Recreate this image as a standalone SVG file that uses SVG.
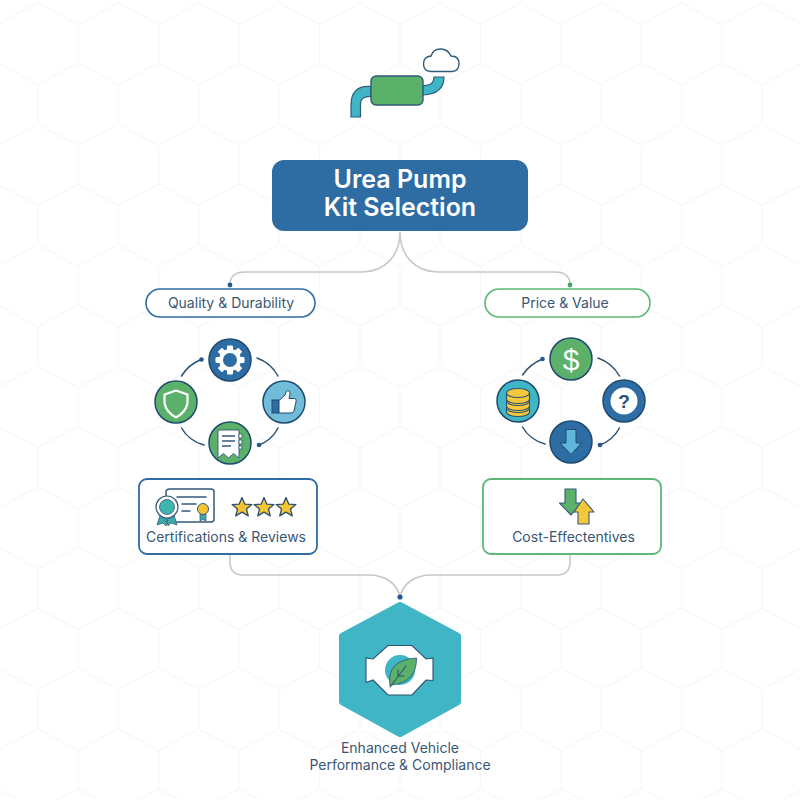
<svg xmlns="http://www.w3.org/2000/svg" xmlns:xlink="http://www.w3.org/1999/xlink" width="800" height="800" viewBox="0 0 800 800">
<style>
text{font-family:Inter,"Liberation Sans",sans-serif;fill:#3a5675;text-anchor:middle}
.lab{font-size:14px}
.title{font-size:25px;font-weight:600;fill:#fff}
.con{fill:none;stroke:#c6c8c9;stroke-width:1.6}
.arc{fill:none;stroke:#2c5273;stroke-width:1.5;stroke-linecap:round}
.ring{stroke:#1f4a70;stroke-width:1.5}
.blue{fill:#2e6ca4}.green{fill:#5cb16a}.teal{fill:#3fb5c6}.light{fill:#70bcd9}
.ink{fill:none;stroke:#34597a;stroke-width:1.5;stroke-linecap:round;stroke-linejoin:round}
.star{fill:#f5c432;stroke:#2d5070;stroke-width:1.3;stroke-linejoin:round}
</style>
<defs>
<pattern id="hex" width="80.5" height="121" patternUnits="userSpaceOnUse" x="37.75" y="3">
<path d="M0 0L40.25 21.5V60L0 81.5V121M80.5 0L40.25 21.5M40.25 60L80.5 81.5V121" fill="none" stroke="#f7f7f8" stroke-width="1.3"/>
</pattern>
<path id="st" d="M0-10L2.9-3.3 9.9-2.9 4.5 1.6 6.3 8.4 0 4.6-6.3 8.4-4.5 1.6-9.9-2.9-2.9-3.3Z"/>
</defs>
<rect width="800" height="800" fill="#fff"/>
<rect id="background" width="800" height="800" fill="url(#hex)"/>
<g id="connectors">
<path class="con" d="M400 232C400 255 385 272 362 272H245Q230 272 230 285"/>
<path class="con" d="M400 232C400 255 415 272 438 272H555Q570 272 570 285"/>
<path class="con" d="M230 555V562Q230 575 243 575H368C385 575 397 583 400 597"/>
<path class="con" d="M570 555V562Q570 575 557 575H432C415 575 403 583 400 597"/>
<circle cx="230" cy="285" r="2.400" fill="#24598e"/>
<circle cx="570" cy="285" r="2.400" fill="#4aa365"/>
<circle cx="400" cy="597" r="2.600" fill="#24598e"/>
<g id="left-cycle">
<path class="arc" d="M181.500 376Q188 365 201 359.500"/><path class="arc" d="M257 358Q271 363 278 376"/><path class="arc" d="M278 428Q272 440 259 445"/><path class="arc" d="M181.500 428Q189 441 204 445"/>
<circle cx="201.500" cy="359.500" r="2.300" fill="#24598e"/><circle cx="259" cy="445" r="2.300" fill="#24598e"/>
</g>
<g id="right-cycle">
<path class="arc" d="M522.500 375Q530 364 542.500 359"/><path class="arc" d="M598 358Q612 363 619.500 376"/><path class="arc" d="M619.500 428Q613 440 600 445"/><path class="arc" d="M522.500 427Q530 440 545 444"/>
<circle cx="542.500" cy="359" r="2.300" fill="#24598e"/><circle cx="600" cy="445" r="2.300" fill="#24598e"/>
</g>
</g>
<g id="muffler">
<path d="M371 86.500Q351 85 351 105V117H360.500V104Q360.500 96 371 96.500Z" class="teal" stroke="#2c5b7a" stroke-width="1.200"/>
<path d="M423 85.500Q434 86 434 77H444Q444 94 423 95Z" class="teal" stroke="#2c5b7a" stroke-width="1.200"/>
<rect x="371" y="76" width="52" height="29" rx="5" class="green" stroke="#2f5a78" stroke-width="1.400"/>
<path d="M431 71.500H452Q459 71 459 63.500Q459 56 451 56Q448 49 440.500 49Q433 49 431 56Q423.500 56.500 423.500 64Q423.500 71 431 71.500Z" fill="#fff" stroke="#2f5a78" stroke-width="1.400"/>
</g>
<g id="title">
<rect x="272" y="160" width="256" height="71" rx="12" class="blue"/>
<text class="title" x="400" y="188">Urea Pump</text>
<text class="title" x="400" y="216">Kit Selection</text>
</g>
<g id="quality">
<rect x="146" y="289" width="169" height="28" rx="14" fill="#fff" stroke="#2e6ca4" stroke-width="1.600"/>
<text class="lab" x="231" y="308">Quality &amp; Durability</text>
</g>
<g id="price">
<rect x="485" y="289" width="165" height="28" rx="14" fill="#fff" stroke="#5cb874" stroke-width="1.600"/>
<text class="lab" x="565" y="308">Price &amp; Value</text>
</g>
<g id="gear">
<circle cx="230" cy="360" r="21" class="blue ring"/>
<g fill="#fff"><circle cx="230" cy="360" r="11"/><g id="teeth"><rect x="227" y="345.500" width="6" height="29" rx="1"/><rect x="227" y="345.500" width="6" height="29" rx="1" transform="rotate(45 230 360)"/><rect x="227" y="345.500" width="6" height="29" rx="1" transform="rotate(90 230 360)"/><rect x="227" y="345.500" width="6" height="29" rx="1" transform="rotate(135 230 360)"/></g></g>
<circle cx="230" cy="360" r="7" class="blue"/>
</g>
<g id="thumb">
<circle cx="284" cy="402" r="21" class="light ring"/>
<rect x="272" y="400" width="7" height="13" fill="#2e6ca4" stroke="#1f4a70"/>
<path d="M279 400.500L285 395L286.500 391Q290 389.500 290 394L289 398.500H294.500Q297 399 296 402L294 411Q293.500 413 291 413H279Z" fill="#fff" stroke="#1f4a70" stroke-width="1"/>
</g>
<g id="shield">
<circle cx="176" cy="402" r="21" class="green ring"/>
<path d="M176 390.500L187.500 394.500V403Q186 412 176 417.500Q166 412 164.500 403V394.500Z" class="green" stroke="#fff" stroke-width="2.200" stroke-linejoin="round"/>
</g>
<g id="document">
<circle cx="230" cy="443" r="21" class="green ring"/>
<path d="M218 430H239V458L233.500 453.500L228.500 458L223.500 453.500L218 458Z" fill="#fff" stroke="#1f4a70" stroke-width=".8"/>
<path d="M239 434h3v4h-3zM239 440h3v4h-3zM239 446h3v3h-3z" fill="#fff" stroke="#1f4a70" stroke-width=".7"/>
<path d="M222 436H235M222 441H235M222 446H231" stroke="#34597a" stroke-width="1.300"/>
</g>
<g id="dollar">
<circle cx="571" cy="359" r="21" class="green ring"/>
<text x="571" y="370" style="font-size:30px;fill:#fff;font-family:'Liberation Sans',sans-serif">$</text>
</g>
<g id="question">
<circle cx="624" cy="401" r="21" class="blue ring"/>
<circle cx="624" cy="401" r="13.500" fill="#fff"/>
<text x="624" y="408" style="font-size:19px;font-weight:700;fill:#24507a;font-family:'Liberation Sans',sans-serif">?</text>
</g>
<g id="arrow">
<circle cx="571" cy="442" r="21" class="blue ring"/>
<path d="M566 429.500H576V443H581.500L571 454.500L560 443H566Z" fill="#5fb7dc" stroke="#1f4a70" stroke-width="1"/>
</g>
<g id="coins">
<circle cx="518" cy="401" r="21" class="teal ring"/>
<g fill="#f5c83c" stroke="#2c5273" stroke-width="1.100">
<path d="M506.500 408v4a11.500 4.500 0 0 0 23 0v-4Z"/><ellipse cx="518" cy="408" rx="11.500" ry="4.500"/>
<path d="M506.500 401v5a11.500 4.500 0 0 0 23 0v-5Z"/><ellipse cx="518" cy="401" rx="11.500" ry="4.500"/>
<path d="M506.500 393v6a11.500 4.500 0 0 0 23 0v-6Z"/><ellipse cx="518" cy="393" rx="11.500" ry="4.500"/>
</g>
</g>
<g id="certifications">
<rect x="139" y="479" width="178" height="75" rx="8" fill="#fff" stroke="#2e6ca4" stroke-width="1.800"/>
<path class="ink" d="M170 489H211Q214 489 214 492V519Q214 522 211 522H176M166 496V492Q166 489 170 489"/>
<path class="ink" d="M177 497H206M182 504H196M182 511H190"/>
<path d="M160 515L157 525L163 523L166 526L168 517ZM174 515L177 525L171 523L168 526L166 517Z" fill="#3aa9a8" stroke="#2c5273" stroke-width=".7"/>
<circle cx="167" cy="507" r="11" fill="#fff" stroke="#34597a" stroke-width="1.200"/>
<circle cx="167" cy="507" r="7.500" fill="#3fb5b0" stroke="#34597a" stroke-width=".8"/>
<path d="M200 514V521L203 519.500L206 521V514Z" fill="#3aa9a8" stroke="#2c5273" stroke-width=".7"/>
<circle cx="203" cy="509" r="5.500" fill="#f5c432" stroke="#34597a" stroke-width="1"/>
<use xlink:href="#st" href="#st" x="242" y="507.500" class="star"/><use xlink:href="#st" href="#st" x="264" y="507.500" class="star"/><use xlink:href="#st" href="#st" x="286" y="507.500" class="star"/>
<text class="lab" x="226" y="542">Certifications &amp; Reviews</text>
</g>
<g id="cost">
<rect x="483" y="479" width="178" height="75" rx="8" fill="#fff" stroke="#5cb874" stroke-width="1.800"/>
<path d="M565 489H576V503H582L571 515L559.500 503H565Z" class="green" stroke="#34597a" stroke-width="1.100" stroke-linejoin="round"/>
<path d="M583 499L594 512H589V524H578V512H574Z" fill="#f5c83c" stroke="#34597a" stroke-width="1.100" stroke-linejoin="round"/>
<text class="lab" x="573.500" y="542">Cost-Effectentives</text>
</g>
<g id="outcome">
<path d="M400 605L458 636V702L400 734L342 702V636Z" class="teal" stroke="#3fb5c6" stroke-width="6" stroke-linejoin="round"/>
<path d="M388 645.500H412L426 659L433 658V680.500L426 680L412 695H388L373 680L366 682.500V658L373 659Z" fill="#fff" stroke="#2c5273" stroke-width="1.100"/>
<circle cx="400" cy="670" r="15" class="teal"/>
<path d="M390 686Q386 660 416.500 658Q417 682 392 685Z" class="green" stroke="#2c5273" stroke-width=".8"/>
<path d="M390 687L406 666M398 676V670M398 676H404" fill="none" stroke="#2c5273" stroke-width="1.100" stroke-linecap="round"/>
<text class="lab" x="400" y="753">Enhanced Vehicle</text>
<text class="lab" x="400" y="770">Performance &amp; Compliance</text>
</g>
</svg>
